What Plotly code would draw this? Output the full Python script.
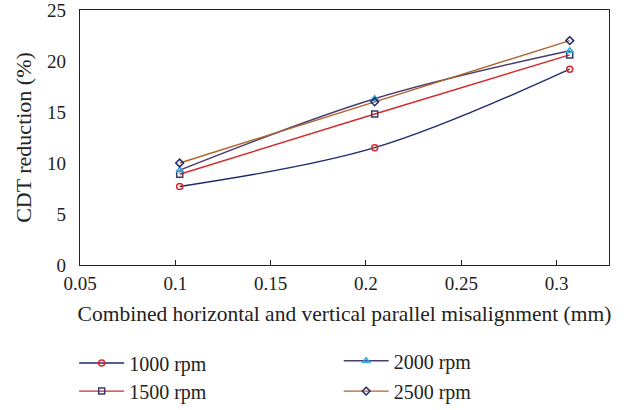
import plotly.graph_objects as go

misalignment = [0.1023, 0.2046, 0.3069]
series_names = ["1000 rpm", "1500 rpm", "2000 rpm", "2500 rpm"]
cdt_1000 = [7.7, 11.5, 19.2]
cdt_1500 = [8.9, 14.8, 20.6]
cdt_2000 = [9.3, 16.3, 21.0]
cdt_2500 = [10.0, 16.0, 22.0]
x_ticks = [0.05, 0.1, 0.15, 0.2, 0.25, 0.3]
y_ticks = [0, 5, 10, 15, 20, 25]

FONT = "Liberation Serif"
TXT = "#222222"
styles = [
    dict(line="#1f2a6e", marker="#d42a2a", symbol="circle-open"),
    dict(line="#d42a2a", marker="#3a3a66", symbol="square-open"),
    dict(line="#4a3d6b", marker="#2aa8e0", symbol="triangle-up-open"),
    dict(line="#b0642d", marker="#1f2a6e", symbol="diamond-open"),
]
values = [cdt_1000, cdt_1500, cdt_2000, cdt_2500]
legend_ids = ["legend", "legend2", "legend3", "legend4"]

fig = go.Figure()
for name, vals, st, lid in zip(series_names, values, styles, legend_ids):
    fig.add_trace(go.Scatter(
        x=misalignment, y=vals, name=name, mode="lines+markers",
        line=dict(color=st["line"], width=1.4, shape="spline", smoothing=1.0),
        marker=dict(symbol=st["symbol"], size=6, color=st["marker"],
                    line=dict(color=st["marker"], width=1.5)),
        legend=lid,
    ))

# legend positions (paper coords)
leg_pos = {
    "legend": (-0.011, -0.308),
    "legend2": (-0.011, -0.418),
    "legend3": (0.489, -0.299),
    "legend4": (0.489, -0.418),
}
legend_layout = {}
for lid, (lx, ly) in leg_pos.items():
    legend_layout[lid] = dict(x=lx, y=ly, xanchor="left", yanchor="top",
                              bgcolor="rgba(0,0,0,0)", itemwidth=45,
                              font=dict(family=FONT, size=20, color=TXT))

fig.update_layout(
    width=626, height=410,
    margin=dict(l=80, r=17, t=10, b=145, autoexpand=False),
    paper_bgcolor="white", plot_bgcolor="white",
    font=dict(family=FONT, size=19, color=TXT),
    showlegend=True,
    **legend_layout,
)
fig.update_xaxes(
    range=[0.05, 0.3275], tickvals=x_ticks,
    ticktext=[f"{v:g}" for v in x_ticks],
    ticks="inside", ticklen=5, tickcolor=TXT, ticklabelstandoff=1,
    showline=True, linecolor=TXT, linewidth=1.2, mirror=True,
    showgrid=False, zeroline=False, automargin=False,
    ticklabeloverflow="allow",
    title=dict(text="Combined horizontal and vertical parallel misalignment (mm)",
               font=dict(family=FONT, size=21.5), standoff=13),
    tickfont=dict(family=FONT, size=19),
)
fig.update_yaxes(
    range=[0, 25], tickvals=y_ticks,
    ticks="", showline=True, linecolor=TXT, linewidth=1.2, mirror=True,
    showgrid=False, zeroline=False, ticklabelstandoff=9, automargin=False,
    ticklabeloverflow="allow",
    title=dict(text="CDT reduction (%)", font=dict(family=FONT, size=22), standoff=9),
    tickfont=dict(family=FONT, size=19),
)
fig.write_html(
    "out.html",
    config={"responsive": False, "displayModeBar": False},
    post_script="document.body.style.margin='0';document.body.style.overflow='hidden';",
)
